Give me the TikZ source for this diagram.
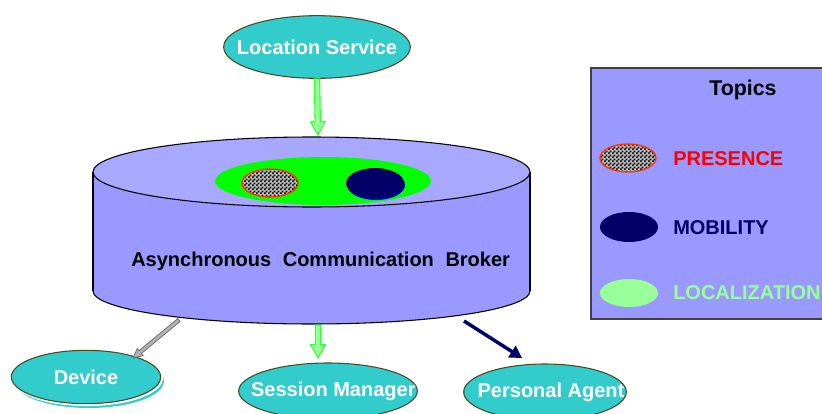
\documentclass[tikz,border=0pt]{standalone}
\usepackage{fontspec}
\setmainfont{Liberation Sans}
\usetikzlibrary{shapes.geometric,calc,arrows.meta,patterns}

\definecolor{nodeteal}{HTML}{33CCCC}
\definecolor{nodeedge}{HTML}{4A4A20}
\definecolor{brokerbody}{HTML}{9999FF}
\definecolor{brokertop}{HTML}{A8A8FF}
\definecolor{topicgreen}{HTML}{00FF00}
\definecolor{presred}{HTML}{FF3300}
\definecolor{mobnavy}{HTML}{000066}
\definecolor{locgreen}{HTML}{99FF99}
\definecolor{arrowgreen}{HTML}{33FF33}

% small black-and-white check used for the PRESENCE topic
\pgfdeclarepatternformonly{finechecker}{\pgfpointorigin}{\pgfqpoint{3pt}{3pt}}%
  {\pgfqpoint{3pt}{3pt}}{%
  \pgfpathrectangle{\pgfpointorigin}{\pgfqpoint{1.5pt}{1.5pt}}%
  \pgfpathrectangle{\pgfqpoint{1.5pt}{1.5pt}}{\pgfqpoint{1.5pt}{1.5pt}}%
  \pgfusepath{fill}}

% hollow block arrow from #2 to #3, drawn with style #1
\newcommand\hollowarrow[6][]{%
  \coordinate (ha-s) at (#2);
  \coordinate (ha-e) at (#3);
  \coordinate (ha-h) at ($(ha-e)!#6!(ha-s)$);
  \filldraw[#1]
    ($(ha-s)!#4!90:(ha-e)$) -- ($(ha-h)!#4!-90:(ha-s)$) --
    ($(ha-h)!#5!-90:(ha-s)$) -- (ha-e) --
    ($(ha-h)!#5!90:(ha-s)$) -- ($(ha-h)!#4!90:(ha-s)$) --
    ($(ha-s)!#4!-90:(ha-e)$) -- cycle;
}

\tikzset{
  x=0.75pt, y=-0.75pt,
  service/.style={ellipse, draw=nodeedge, line width=0.8pt, fill=nodeteal,
    inner sep=0pt, text=white,
    font=\bfseries\fontsize{15}{18}\selectfont},
  greenarrow/.style={draw=arrowgreen, fill=locgreen, line width=0.8pt},
  grayarrow/.style={draw=black!60, fill=black!30, line width=0.5pt},
  navyarrow/.style={draw=mobnavy, line width=2.6pt,
    -{Triangle[length=9pt,width=10pt]}},
  label/.style={inner sep=0pt, font=\bfseries\fontsize{15}{18}\selectfont},
  checker/.style={preaction={fill=black!25}, pattern=finechecker,
    pattern color=black, draw=presred, line width=1pt},
}

\begin{document}
\begin{tikzpicture}
\useasboundingbox (0,0) rectangle (822,414);

% ---------------- broker cylinder ----------------
\filldraw[fill=brokerbody, draw=black, line width=0.8pt]
  (311.5,291) ellipse [x radius=218.5, y radius=33];
\fill[brokerbody] (93,172) rectangle (530,291);
\draw[line width=0.8pt] (93,172) -- (93,291) (530,172) -- (530,291);
\filldraw[fill=brokertop, draw=black, line width=0.8pt]
  (311.5,172) ellipse [x radius=218.5, y radius=35];

% topics held by the broker
\fill[topicgreen] (323,181) ellipse [x radius=108, y radius=24];
\draw[checker] (270,183) ellipse [x radius=28, y radius=14];
\fill[blue!50!mobnavy] (376,185) ellipse [x radius=29, y radius=15];
\fill[mobnavy] (375,183) ellipse [x radius=29, y radius=15];

\node[label, anchor=west] (broker) at (131,261)
  {Asynchronous\hspace{0.3em} Communication\hspace{0.3em} Broker};

% attachment points on the cylinder
\coordinate (bsm)   at (318,325);
\coordinate (bdev)  at (179,320);
\coordinate (bpa)   at (464,321);

% ---------------- services ----------------
\node[service, minimum width=140pt, minimum height=47pt] (ls) at (317,47)
  {\makebox[0pt]{Location Service}};

\fill[nodeteal] (89,381) ellipse [x radius=75, y radius=27];
\draw[white, line width=1.6pt] (87,378) ellipse [x radius=75, y radius=27];
\node[service, minimum width=112pt, minimum height=40pt] (dev) at (86,377)
  {\makebox[0pt]{Device}};

\node[service, minimum width=134pt, minimum height=42pt] (sm) at (328,391)
  {\makebox[0pt]{\hspace*{8pt}Session Manager}};
\node[service, minimum width=122pt, minimum height=42pt] (pa) at (545,392)
  {\makebox[0pt]{\hspace*{9pt}Personal Agent}};

% free ends of the arrows
\coordinate (lsin)  at (318,135);
\coordinate (smin)  at (318,358);
\coordinate (devin) at (133,358);
\coordinate (pain)  at (522,358);

% ---------------- connectors ----------------
\hollowarrow[greenarrow]{ls.south}{lsin}{2pt}{5.5pt}{10pt}
\hollowarrow[greenarrow]{bsm}{smin}{2pt}{5.5pt}{10pt}
\hollowarrow[grayarrow]{bdev}{devin}{1.4pt}{3.5pt}{7pt}
\draw[navyarrow] (bpa) -- (pain);

% ---------------- legend ----------------
\filldraw[fill=brokerbody, draw=black!75, line width=0.8pt]
  (591,68) rectangle (840,319);
\node[label, font=\bfseries\fontsize{16}{19}\selectfont] (topics) at (743,90)
  {Topics};

\draw[checker] (628,158) ellipse [x radius=28, y radius=14];
\node[label, anchor=west, text=red] (lpres) at (673,159) {PRESENCE};

\fill[mobnavy] (629,227) ellipse [x radius=29, y radius=15];
\node[label, anchor=west, text=mobnavy] (lmob) at (673,228) {MOBILITY};

\fill[locgreen] (629,293) ellipse [x radius=29, y radius=14];
\node[label, anchor=west, text=locgreen] (lloc) at (673,293) {LOCALIZATION};
\end{tikzpicture}
\end{document}
